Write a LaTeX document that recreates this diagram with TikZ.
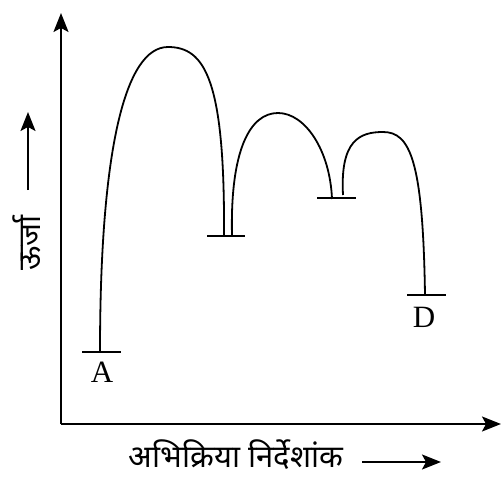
\documentclass[tikz,border=0pt]{standalone}
\usepackage{fontspec}
\usetikzlibrary{arrows.meta}
\newfontfamily\hindi[Script=Devanagari]{Noto Sans}
\newfontfamily\latinserif{Liberation Serif}
\begin{document}
\begin{tikzpicture}[x=1pt,y=-1pt,
  axis/.style={line width=1.6pt,-{Stealth[length=19pt,width=15pt,inset=4pt]}},
  curve/.style={line width=1.8pt},
  level/.style={line width=1.8pt},
  lab/.style={font=\latinserif\fontsize{31}{31}\selectfont,inner sep=0pt},
  hlab/.style={font=\hindi\fontsize{31}{34}\selectfont,inner sep=0pt}]
\useasboundingbox (0,0) rectangle (501,477);
% axes
\coordinate (O) at (61,424);
\coordinate (ytip) at (61,13);
\coordinate (xtip) at (501,424);
\draw[axis] (O) -- (ytip);
\draw[axis] (O) -- (xtip);
% level lines
\coordinate (a1) at (82,352); \coordinate (a2) at (121,352);
\coordinate (b1) at (207,236); \coordinate (b2) at (245,236);
\coordinate (c1) at (317,198); \coordinate (c2) at (356,198);
\coordinate (d1) at (407,295); \coordinate (d2) at (446,295);
\draw[level] (a1) -- (a2);
\draw[level] (b1) -- (b2);
\draw[level] (c1) -- (c2);
\draw[level] (d1) -- (d2);
% curves
\draw[curve] (100,352) .. controls (100,150) and (125,47) .. (168,47)
  .. controls (205,47) and (225,80) .. (224,236);
\draw[curve] (232,236) .. controls (230,150) and (250,113) .. (278,113)
  .. controls (305,113) and (330,150) .. (332,199);
\draw[curve] (343,195) .. controls (340,140) and (360,132) .. (383,132)
  .. controls (410,132) and (423,160) .. (425,295);
% labels
\node[lab] (A) at (102,372) {A};
\node[lab] (D) at (424,317) {D};
\node[hlab] (xl) at (236,455) {अभिक्रिया निर्देशांक};
\coordinate (xa1) at (362,462); \coordinate (xa2) at (441,462);
\draw[axis] (xa1) -- (xa2);
\node[hlab,rotate=90] (yl) at (27,243) {ऊर्जा};
\coordinate (ya1) at (28,190); \coordinate (ya2) at (28,112);
\draw[axis] (ya1) -- (ya2);
\end{tikzpicture}
\end{document}
